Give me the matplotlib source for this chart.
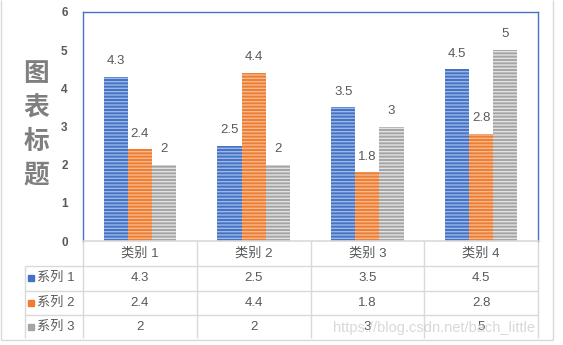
import numpy as np
import matplotlib.pyplot as plt

categories = ["类别 1", "类别 2", "类别 3", "类别 4"]
series_names = ["系列 1", "系列 2", "系列 3"]
series_values = [
    [4.3, 2.5, 3.5, 4.5],
    [2.4, 4.4, 1.8, 2.8],
    [2, 2, 3, 5],
]
value_labels = [
    ["4.3", "2.5", "3.5", "4.5"],
    ["2.4", "4.4", "1.8", "2.8"],
    ["2", "2", "3", "5"],
]
y_ticks = [0, 1, 2, 3, 4, 5, 6]
title_text = "图表标题"

COLORS = ["#4472C4", "#ED7D31", "#A5A5A5"]
STRIPES = ["#9DB7E6", "#F7B98F", "#E2E2E2"]
TEXT = "#595959"
GRID = "#D9D9D9"
FONT = ["Liberation Sans", "Noto Sans CJK SC"]

W, H = 563, 345
plt.rcParams["font.family"] = FONT
plt.rcParams["hatch.linewidth"] = 1.0

fig = plt.figure(figsize=(W / 100, H / 100), dpi=100)

# overlay in pixel coordinates for table, border, title
bg = fig.add_axes([0, 0, 1, 1])
bg.set_xlim(0, W)
bg.set_ylim(H, 0)
bg.axis("off")

left, right, top, bottom = 83, 538, 12, 241
ax = fig.add_axes([left / W, 1 - bottom / H, (right - left) / W, (bottom - top) / H])

n_cat = len(categories)
x = np.arange(n_cat)
width = 0.213
for i, vals in enumerate(series_values):
    pos = x + (i - 1) * width
    ax.bar(pos, vals, width, color=COLORS[i], edgecolor=STRIPES[i],
           linewidth=0, hatch="-----", zorder=2)
    for px, v, lab in zip(pos, vals, value_labels[i]):
        ax.annotate(lab, (px, v), xytext=(0, 7), textcoords="offset points",
                    ha="center", va="bottom", fontsize=9.5, color=TEXT)

ax.set_xlim(-0.5, n_cat - 0.5)
ax.set_ylim(0, 6)
ax.set_yticks(y_ticks)
ax.set_yticklabels([str(t) for t in y_ticks], fontweight="bold", fontsize=8.5,
                   color=TEXT)
ax.tick_params(axis="y", length=0, pad=11)
ax.set_xticks([])
for side in ["top", "left", "right"]:
    ax.spines[side].set_color("#4472C4")
    ax.spines[side].set_linewidth(1.0)
ax.spines["bottom"].set_color(GRID)
ax.spines["bottom"].set_linewidth(1.2)

# vertical title
bg.text(36, 125, "\n".join(title_text), ha="center", va="center",
        fontsize=18.5, fontweight="bold", color="#7F7F7F", linespacing=1.5)

# data table
col_w = (right - left) / n_cat
row_tops = [241, 266, 291, 315]
row_h = 24.5
table_bottom = 338
leg_left = 25
for r in row_tops[1:]:
    bg.hlines(r, leg_left, right, color=GRID, lw=1)
for c in range(n_cat + 1):
    bg.vlines(left + c * col_w, bottom, table_bottom, color=GRID, lw=1)
bg.vlines(leg_left, row_tops[1], table_bottom, color=GRID, lw=1)

for c, cat in enumerate(categories):
    bg.text(left + (c + 0.5) * col_w, row_tops[0] + row_h / 2, cat,
            ha="center", va="center", fontsize=9.5, color=TEXT)
for i, name in enumerate(series_names):
    yc = row_tops[i + 1] + row_h / 2
    bg.add_patch(plt.Rectangle((28, yc - 3), 6, 6, color=COLORS[i]))
    bg.text(37, yc, name, ha="left", va="center", fontsize=9.5, color=TEXT)
    for c, lab in enumerate(value_labels[i]):
        bg.text(left + (c + 0.5) * col_w, yc, lab, ha="center", va="center",
                fontsize=9.5, color=TEXT)

# chart border
bg.vlines(1, 0, 340, color=GRID, lw=1)
bg.vlines(553, 0, 340, color=GRID, lw=1)
bg.hlines(340, 1, 553, color=GRID, lw=1)

# watermark
bg.text(333, 328, "https://blog.csdn.net/bach_little", ha="left", va="center",
        fontsize=10.5, color="#C8C8C8", alpha=0.7)

fig.savefig("out.png", dpi=100)
